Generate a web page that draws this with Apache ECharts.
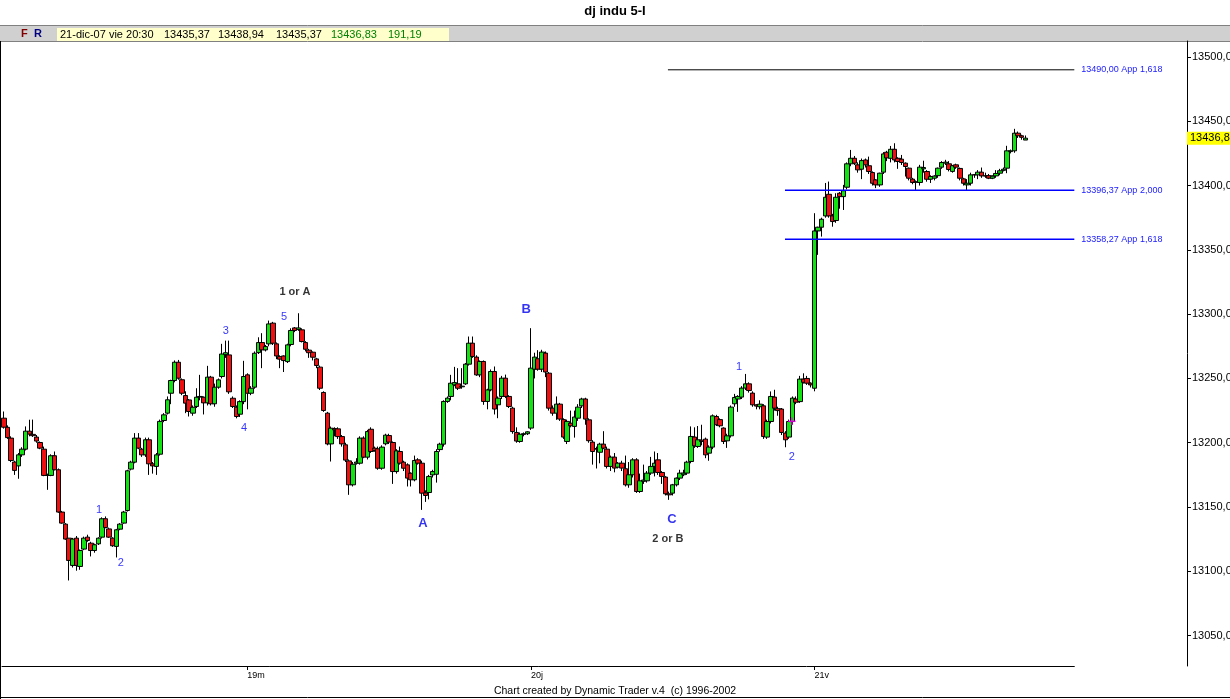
<!DOCTYPE html>
<html><head><meta charset="utf-8">
<script src="https://cdn.jsdelivr.net/npm/echarts@6/dist/echarts.min.js"></script>
<style>html,body{margin:0;padding:0;background:#fff;overflow:hidden}#c{width:1230px;height:699px}</style>
</head><body><div id="c"></div>
<script>
// ---- DATA: 5-minute bars [open, high, low, close] ----
const day18 = [
[13219.1,13224.3,13211.0,13212.1],[13212.0,13213.5,13203.0,13204.0],[13203.6,13205.0,13185.0,13186.2],[13185.0,13186.0,13175.0,13178.5],
[13182.0,13192.0,13172.0,13190.6],[13190.6,13196.5,13189.0,13195.0],[13195.0,13212.7,13194.0,13209.0],[13209.0,13217.9,13205.0,13206.7],
[13206.5,13218.0,13204.5,13205.5],[13204.4,13206.0,13200.0,13201.3],[13200.2,13201.0,13195.0,13195.8],[13195.0,13197.0,13174.0,13174.6],
[13174.8,13176.0,13163.4,13174.6],[13174.6,13191.0,13174.0,13189.9],[13189.9,13193.2,13178.5,13179.0],[13179.0,13180.0,13145.5,13146.1],
[13146.1,13147.0,13137.0,13137.5],[13136.7,13137.5,13124.5,13125.1],[13125.8,13126.0,13092.9,13108.5],[13104.6,13126.0,13103.0,13125.1],
[13125.8,13127.5,13100.5,13104.6],[13103.8,13117.0,13101.2,13116.2],[13117.3,13127.0,13116.5,13125.8],[13126.6,13128.5,13123.0,13124.0],
[13121.9,13123.0,13111.6,13116.2],[13116.2,13121.5,13114.5,13120.7],[13121.4,13126.5,13120.5,13125.8],[13126.6,13142.0,13125.5,13140.9],
[13140.9,13142.7,13133.5,13134.1],[13133.0,13134.0,13126.0,13126.6],[13125.8,13126.5,13119.0,13119.9],[13119.4,13133.0,13110.8,13132.3],
[13132.8,13137.5,13132.0,13136.7],[13137.5,13147.0,13137.0,13146.1],[13147.3,13179.0,13146.5,13178.2],[13179.5,13186.0,13178.5,13184.9],
[13184.9,13207.5,13184.0,13203.6],[13203.6,13207.5,13195.0,13195.8],[13195.0,13196.0,13189.0,13190.6],[13190.6,13204.0,13189.0,13202.3],
[13202.3,13204.0,13175.0,13183.6],[13183.6,13185.0,13176.0,13182.0],[13181.6,13192.0,13175.0,13190.6],[13191.1,13218.0,13190.0,13216.6],
[13217.3,13223.0,13216.0,13221.7],[13223.0,13236.0,13222.0,13233.4],[13238.5,13249.0,13230.0,13248.4],[13248.4,13264.0,13247.0,13262.6],
[13262.6,13264.4,13249.0,13250.2],[13249.0,13250.0,13237.0,13238.5],[13236.7,13240.0,13223.0,13230.8],[13233.3,13234.0,13220.4,13224.3],
[13223.0,13229.0,13221.0,13227.6],[13228.2,13242.4,13227.0,13235.4],[13235.5,13252.8,13233.0,13236.0],[13235.4,13236.0,13222.0,13231.0],
[13231.0,13259.8,13229.0,13251.0],[13251.0,13252.0,13229.0,13230.3],[13230.3,13246.0,13228.0,13243.2],[13243.2,13250.0,13242.0,13248.9],
[13251.5,13276.9,13250.0,13269.0],[13268.5,13279.4,13266.0,13270.0],[13268.3,13279.4,13238.0,13239.6],[13234.6,13236.0,13227.0,13228.2],
[13227.6,13229.0,13219.0,13220.4],[13222.2,13233.0,13220.0,13232.0],[13232.0,13263.7,13230.0,13251.5]
];
const day19 = [
[13252.8,13254.0,13226.0,13238.5],[13238.5,13244.0,13237.0,13242.4],[13243.2,13271.0,13242.0,13269.6],[13270.1,13282.0,13269.0,13277.9],
[13277.9,13285.2,13258.0,13272.2],[13272.2,13276.0,13271.0,13274.8],[13276.9,13295.0,13275.0,13292.4],[13293.0,13294.0,13276.0,13277.4],
[13276.9,13278.0,13265.0,13267.5],[13267.0,13268.0,13258.0,13265.0],[13267.5,13268.0,13255.0,13263.9],[13263.1,13277.0,13262.0,13276.1],
[13276.4,13289.0,13275.0,13287.3],[13289.3,13290.0,13286.0,13287.3],[13288.0,13300.7,13287.0,13289.3],[13287.8,13289.0,13278.0,13278.7],
[13277.9,13279.0,13271.0,13272.7],[13272.0,13273.0,13266.0,13270.0],[13270.4,13271.0,13264.0,13266.5],[13265.2,13266.0,13258.0,13260.1],
[13258.8,13260.0,13241.0,13242.4],[13239.1,13240.0,13224.0,13225.1],[13223.0,13224.0,13198.0,13199.1],[13199.1,13212.6,13185.4,13211.3],
[13211.0,13212.0,13205.0,13210.0],[13210.8,13212.0,13203.0,13204.8],[13204.8,13206.0,13197.0,13199.1],[13198.4,13200.0,13185.0,13186.5],
[13185.9,13187.0,13159.5,13167.3],[13167.3,13185.0,13166.0,13183.3],[13184.0,13188.0,13183.0,13185.0],[13184.1,13205.0,13183.0,13203.6],
[13203.6,13205.0,13188.0,13188.8],[13188.8,13210.0,13187.0,13208.7],[13210.5,13212.0,13192.0,13193.2],[13195.8,13197.0,13193.0,13194.0],
[13195.3,13197.0,13179.0,13180.2],[13180.2,13198.0,13179.0,13196.6],[13199.2,13207.0,13198.0,13205.9],[13205.6,13207.0,13199.0,13200.5],
[13200.2,13201.0,13168.0,13177.6],[13177.6,13195.0,13176.0,13193.7],[13193.2,13197.0,13183.0,13184.1],[13184.9,13186.0,13178.0,13180.2],
[13182.8,13184.0,13166.0,13172.5],[13176.3,13177.0,13166.0,13171.2],[13171.2,13190.0,13170.0,13186.2],[13186.7,13188.0,13183.0,13184.1],
[13184.1,13186.0,13147.8,13160.8],[13161.0,13163.0,13154.0,13159.0],[13161.3,13175.0,13156.0,13173.8],[13175.0,13179.0,13173.0,13177.6],
[13175.5,13195.0,13169.0,13193.2],[13194.7,13200.0,13193.0,13198.9],[13198.9,13233.0,13197.0,13232.1],[13232.1,13236.0,13231.0,13234.7],
[13236.0,13252.8,13233.0,13246.3],[13245.0,13259.0,13244.0,13246.8],[13245.8,13258.0,13241.0,13242.4],[13243.5,13258.0,13242.0,13244.0],
[13245.8,13262.0,13245.0,13261.1],[13261.1,13282.6,13260.0,13277.4],[13277.4,13282.6,13266.0,13267.1],[13266.6,13268.0,13252.0,13252.8],
[13252.8,13264.0,13251.0,13263.2],[13263.2,13264.0,13229.5,13232.1],[13232.1,13242.0,13226.0,13241.1],[13241.1,13257.0,13240.0,13255.4],
[13255.4,13259.3,13222.0,13226.2],[13229.5,13236.0,13219.1,13234.7],[13236.0,13252.0,13234.0,13250.2],[13250.2,13253.0,13234.7,13236.0],
[13236.0,13237.0,13227.0,13228.2],[13226.9,13228.0,13207.0,13208.7],[13208.0,13212.0,13200.0,13201.3],[13201.0,13208.0,13200.0,13206.6],
[13206.5,13208.0,13205.0,13207.0],[13207.0,13209.0,13206.0,13208.5]
];
const day20 = [
[13211.4,13289.1,13210.0,13258.0],[13257.2,13270.0,13250.0,13266.6],[13265.3,13272.0,13256.0,13257.2],[13257.2,13272.3,13255.0,13270.5],
[13269.7,13271.0,13251.0,13255.0],[13254.1,13255.0,13225.0,13226.9],[13226.9,13229.0,13221.0,13223.0],[13223.0,13236.0,13217.8,13230.0],
[13230.0,13231.0,13217.0,13218.4],[13218.0,13219.0,13203.0,13204.4],[13201.0,13218.0,13199.0,13216.6],[13215.2,13225.0,13212.0,13213.2],
[13212.7,13225.0,13204.0,13220.0],[13219.1,13230.0,13217.0,13227.7],[13228.7,13235.0,13227.0,13234.0],[13234.0,13235.0,13214.0,13218.4],
[13217.8,13219.0,13200.0,13201.6],[13200.5,13202.0,13183.0,13193.2],[13195.5,13197.0,13180.0,13195.0],[13192.6,13200.0,13184.0,13198.9],
[13198.9,13209.0,13195.0,13195.8],[13195.0,13197.0,13180.0,13181.6],[13181.6,13190.0,13178.0,13188.8],[13188.8,13192.0,13177.0,13180.3],
[13181.0,13185.0,13180.0,13184.1],[13184.1,13186.0,13178.0,13180.3],[13179.8,13190.0,13166.0,13167.3],[13167.3,13185.0,13165.0,13175.1],
[13175.1,13188.0,13173.0,13186.7],[13186.7,13188.0,13161.0,13162.1],[13162.1,13176.0,13161.0,13170.4],[13170.0,13183.0,13168.0,13171.0],
[13170.4,13178.0,13169.0,13176.4],[13176.4,13189.0,13175.0,13181.6],[13181.6,13193.2,13173.8,13184.1],[13186.7,13192.0,13175.0,13176.9],
[13176.9,13178.0,13168.0,13173.8],[13173.3,13174.0,13159.0,13160.3],[13160.3,13162.0,13155.6,13159.5],[13160.8,13168.0,13159.0,13167.3],
[13167.3,13173.0,13166.0,13172.5],[13172.5,13179.0,13171.0,13176.4],[13175.1,13179.0,13174.0,13176.4],[13176.4,13186.0,13175.0,13184.9],
[13185.4,13212.7,13184.0,13204.9],[13204.4,13212.0,13196.0,13197.6],[13197.1,13213.0,13196.0,13202.3],[13202.0,13214.0,13198.0,13201.0],
[13202.8,13204.0,13188.0,13190.6],[13191.9,13198.0,13186.0,13196.6],[13196.6,13222.0,13195.0,13220.9],[13220.4,13221.7,13213.0,13214.0],
[13218.0,13219.0,13212.0,13213.2],[13211.4,13212.0,13199.0,13201.0],[13201.5,13207.0,13196.0,13205.4],[13205.4,13229.0,13204.0,13227.7],
[13230.3,13238.0,13228.0,13235.2],[13234.0,13237.0,13224.0,13236.0],[13235.5,13244.0,13234.0,13242.5],[13242.5,13253.5,13241.0,13245.8],
[13245.8,13247.0,13239.0,13240.6],[13238.6,13240.0,13228.0,13229.5],[13229.5,13230.0,13226.0,13228.5],[13228.0,13233.0,13226.0,13230.0],
[13228.7,13230.0,13203.0,13204.9],[13204.4,13218.0,13203.0,13216.5],[13216.5,13239.9,13215.0,13236.0],[13235.5,13241.2,13225.0,13226.9],
[13226.5,13228.0,13221.0,13225.0],[13226.2,13227.0,13206.0,13208.0],[13207.5,13209.0,13196.5,13202.3],[13204.4,13218.0,13203.0,13216.5],
[13216.5,13236.0,13214.0,13234.7],[13234.0,13236.0,13230.0,13231.5],[13232.0,13252.0,13231.0,13249.5],[13249.5,13254.0,13246.0,13247.0],
[13250.0,13252.0,13245.0,13246.3],[13246.3,13247.0,13243.0,13245.0]
];
const day21 = [
[13242.4,13378.5,13240.0,13364.7],[13364.7,13368.0,13346.1,13367.6],[13367.6,13375.0,13360.3,13373.8],[13376.4,13402.0,13375.0,13390.9],
[13393.2,13403.1,13375.0,13376.4],[13376.4,13378.0,13368.0,13372.0],[13372.8,13394.0,13371.0,13390.9],[13394.0,13395.0,13382.0,13391.4],
[13391.4,13400.5,13381.0,13396.0],[13398.7,13418.0,13397.0,13416.9],[13416.9,13427.7,13415.0,13421.2],[13421.2,13423.0,13416.0,13417.4],
[13416.1,13418.0,13410.0,13412.2],[13412.7,13421.0,13405.0,13419.4],[13419.9,13421.0,13414.0,13416.1],[13415.4,13422.5,13409.0,13410.9],
[13410.1,13411.0,13400.0,13401.8],[13404.4,13405.0,13398.0,13400.5],[13400.5,13410.0,13399.0,13409.6],[13410.4,13426.0,13409.0,13424.6],
[13425.9,13427.0,13419.0,13421.5],[13421.2,13430.8,13418.0,13428.2],[13428.2,13432.9,13418.0,13419.9],[13421.2,13422.0,13413.0,13418.7],
[13420.5,13423.8,13416.0,13417.9],[13417.4,13418.0,13407.0,13414.8],[13413.5,13414.0,13404.0,13405.7],[13405.0,13406.0,13401.0,13402.4],
[13403.0,13404.0,13396.6,13402.5],[13402.4,13416.1,13400.0,13414.3],[13413.0,13419.3,13410.0,13414.0],[13410.9,13412.0,13403.0,13404.9],
[13404.9,13408.0,13402.0,13407.0],[13405.7,13408.0,13404.0,13407.4],[13407.7,13414.0,13406.0,13413.5],[13414.3,13419.0,13413.0,13417.9],
[13417.4,13420.0,13416.0,13418.2],[13416.9,13419.0,13411.0,13412.5],[13411.0,13416.0,13410.0,13415.4],[13416.1,13417.0,13413.0,13414.3],
[13413.3,13414.0,13404.0,13405.7],[13405.2,13406.0,13400.0,13401.8],[13400.5,13405.0,13396.6,13401.8],[13401.8,13410.0,13400.0,13408.3],
[13408.3,13409.0,13406.0,13408.4],[13408.3,13412.0,13405.0,13410.4],[13410.4,13414.0,13406.0,13407.5],[13407.4,13410.0,13406.0,13407.6],
[13407.7,13409.0,13405.0,13405.7],[13405.7,13408.0,13405.0,13407.3],[13407.5,13412.0,13406.0,13409.4],[13409.6,13413.0,13408.0,13411.5],
[13411.8,13414.0,13411.0,13412.7],[13413.5,13430.9,13409.6,13427.0],[13426.4,13428.0,13425.0,13427.0],[13427.0,13444.1,13425.5,13440.7],
[13440.7,13442.0,13437.0,13438.7],[13438.7,13439.5,13435.6,13437.5],[13435.37,13438.94,13435.37,13436.83]
];
// x axis: 5-minute slots; day labels at first bar of each day
const slotCount = 295;
const dayStarts = [67, 145, 223];
const dayNames = ['19m', '20j', '21v'];
// y axis tick values
const yTicks = [13050,13100,13150,13200,13250,13300,13350,13400,13450,13500];
const lastPrice = 13436.83;
// projection target lines (value, start bar, text)
const targetValues = [13490.00, 13396.37, 13358.27];
const targetStartBar = [182.7, 214.9, 214.9];
const targetTexts = ['13490,00 App 1,618', '13396,37 App 2,000', '13358,27 App 1,618'];
// wave annotations [bar position, price, text]
const waveNums = [[26.2,13147.7,'1'],[32.2,13106.5,'2'],[61.1,13286.9,'3'],[66.1,13211.5,'4'],[77.1,13297.8,'5'],[202.3,13258.8,'1'],[216.8,13188.9,'2']];
const waveLetters = [[115.3,13137.6,'A'],[143.7,13304.0,'B'],[183.8,13140.7,'C']];
const waveNotes = [[80.1,13317.3,'1 or A'],[182.7,13125.2,'2 or B']];
const markerPts = [[216.8,13216.2,'+']];
// header texts
const titleText = 'dj indu 5-I';
const headerDate = '21-dic-07 vie 20:30';
const headerVals = ['13435,37','13438,94','13435,37','13436,83','191,19'];
const footerText = 'Chart created by Dynamic Trader v.4  (c) 1996-2002';

// ---- build ----
const bars = day18.concat(day19, day20, day21);
const candleData = bars.map(b => [b[0], b[3], b[2], b[1]]);
const cats = [];
for (let i = 0; i < slotCount; i++) { const k = dayStarts.indexOf(i); cats.push(k >= 0 ? dayNames[k] : ''); }
const isDay = (i) => dayStarts.indexOf(i) >= 0;

const FONT = 'Liberation Sans';
const GREEN = '#12e212', RED = '#ee1010';
const gridLeft = 2, slotW = 3.635;
const gridWidth = slotCount * slotW;
const gridRight = 1230 - gridLeft - gridWidth;
const axisX = 1187;

const chart = echarts.init(document.getElementById('c'), null, {renderer: 'canvas'});

const textSeries = (arr, style, z) => ({
  type: 'scatter', xAxisIndex: 1, yAxisIndex: 0, symbol: 'circle', symbolSize: 1, z: z || 5,
  silent: true, itemStyle: {color: 'rgba(255,255,255,0)'},
  data: arr.map(p => ({value: [p[0], p[1]], name: p[2]})),
  label: Object.assign({show: true, position: 'inside', formatter: (d) => d.name, fontFamily: FONT,
    textBorderWidth: 0}, style)
});

const targetColors = ['#000000', '#0000ff', '#0000ff'];
const targetWidths = [1, 1.5, 1.5];
const targetSeries = targetValues.map((v, k) => ({
  type: 'line', xAxisIndex: 1, yAxisIndex: 0, symbol: 'none', silent: true, z: 4,
  data: [[targetStartBar[k], v], [slotCount - 0.5, v]],
  lineStyle: {color: targetColors[k], width: targetWidths[k]},
  endLabel: {show: true, formatter: targetTexts[k], color: '#1a1aff', fontSize: 9, fontFamily: FONT, distance: 7}
}));

const option = {
  animation: false,
  backgroundColor: '#ffffff',
  grid: {left: gridLeft, right: gridRight, top: 41, bottom: 33, containLabel: false, outerBoundsMode: 'none'},
  xAxis: [{
    type: 'category', data: cats, boundaryGap: true,
    axisLine: {show: true, onZero: false, lineStyle: {color: '#000', width: 1}},
    axisTick: {show: true, alignWithLabel: true, interval: (i) => isDay(i), length: 4, lineStyle: {color: '#000'}},
    axisLabel: {show: true, interval: (i) => isDay(i), align: 'left', margin: 5, fontSize: 9, color: '#000', fontFamily: FONT},
    splitLine: {show: false}
  }, {
    type: 'value', min: -0.5, max: slotCount - 0.5, show: false,
    axisLine: {onZero: false}
  }],
  yAxis: [{
    type: 'value', position: 'right', offset: axisX - (1230 - gridRight),
    min: 13026.4, max: 13512.4,
    axisLine: {show: true, onZero: false, lineStyle: {color: '#000', width: 1}},
    axisTick: {show: true, length: 4, customValues: yTicks, lineStyle: {color: '#000'}},
    axisLabel: {show: true, customValues: yTicks, formatter: (v) => v.toFixed(1).replace('.', ','), fontSize: 11, color: '#000', margin: 5, fontFamily: FONT},
    splitLine: {show: false}
  }],
  series: [{
    type: 'candlestick', xAxisIndex: 0, yAxisIndex: 0, data: candleData, barWidth: 5, z: 3,
    itemStyle: {color: GREEN, color0: RED, borderColor: '#000', borderColor0: '#000', borderColorDoji: '#000', borderWidth: 1}
  }].concat(targetSeries, [
    textSeries(waveNums, {color: '#0000ff', fontSize: 11}),
    textSeries(waveLetters, {color: '#0000ee', fontSize: 13, fontWeight: 'bold'}),
    textSeries(waveNotes, {color: '#000', fontSize: 11, fontWeight: 'bold'}),
    textSeries(markerPts, {color: '#ff00ff', fontSize: 15, fontWeight: 'bold'}, 6)
  ])
};
chart.setOption(option);

const yPx = chart.convertToPixel({yAxisIndex: 0}, lastPrice);
const hdrX = [164, 218, 276, 331, 388];
const hdrCol = ['#000', '#000', '#000', '#008000', '#008000'];
const graphics = [
  {type: 'text', left: 'center', top: 5, style: {text: titleText, font: 'bold 13px ' + FONT, fill: '#000'}},
  {type: 'rect', shape: {x: 0, y: 25, width: 1230, height: 16}, style: {fill: '#d0d0d0', stroke: null}},
  {type: 'line', shape: {x1: 0, y1: 25.5, x2: 1230, y2: 25.5}, style: {stroke: '#808080', lineWidth: 1}},
  {type: 'line', shape: {x1: 0, y1: 41.5, x2: 1230, y2: 41.5}, style: {stroke: '#808080', lineWidth: 1}},
  {type: 'rect', shape: {x: 57, y: 28, width: 392, height: 13}, style: {fill: '#ffffcc', stroke: null}},
  {type: 'text', x: 21, y: 34, style: {text: 'F', font: 'bold 11px ' + FONT, fill: '#800000', verticalAlign: 'middle'}},
  {type: 'text', x: 34, y: 34, style: {text: 'R', font: 'bold 11px ' + FONT, fill: '#000080', verticalAlign: 'middle'}},
  {type: 'text', x: 60, y: 34.5, style: {text: headerDate, font: '11px ' + FONT, fill: '#000', verticalAlign: 'middle'}}
].concat(headerVals.map((t, k) => ({type: 'text', x: hdrX[k], y: 34.5, style: {text: t, font: '11px ' + FONT, fill: hdrCol[k], verticalAlign: 'middle'}})), [
  {type: 'text', x: 615, y: 691, style: {text: footerText, font: '10.5px ' + FONT, fill: '#000', align: 'center', verticalAlign: 'middle'}},
  {type: 'line', shape: {x1: 0.5, y1: 41, x2: 0.5, y2: 699}, style: {stroke: '#000', lineWidth: 1}},
  {type: 'line', shape: {x1: 0, y1: 697.5, x2: 1230, y2: 697.5}, style: {stroke: '#000', lineWidth: 1}},
  {type: 'rect', z: 100, shape: {x: 1187, y: yPx - 6.5, width: 43, height: 13}, style: {fill: '#ffff00', stroke: null}},
  {type: 'text', z: 101, x: 1190, y: yPx, style: {text: lastPrice.toFixed(1).replace('.', ','), font: '11px ' + FONT, fill: '#000', verticalAlign: 'middle'}}
]);
chart.setOption({graphic: graphics});
</script></body></html>
